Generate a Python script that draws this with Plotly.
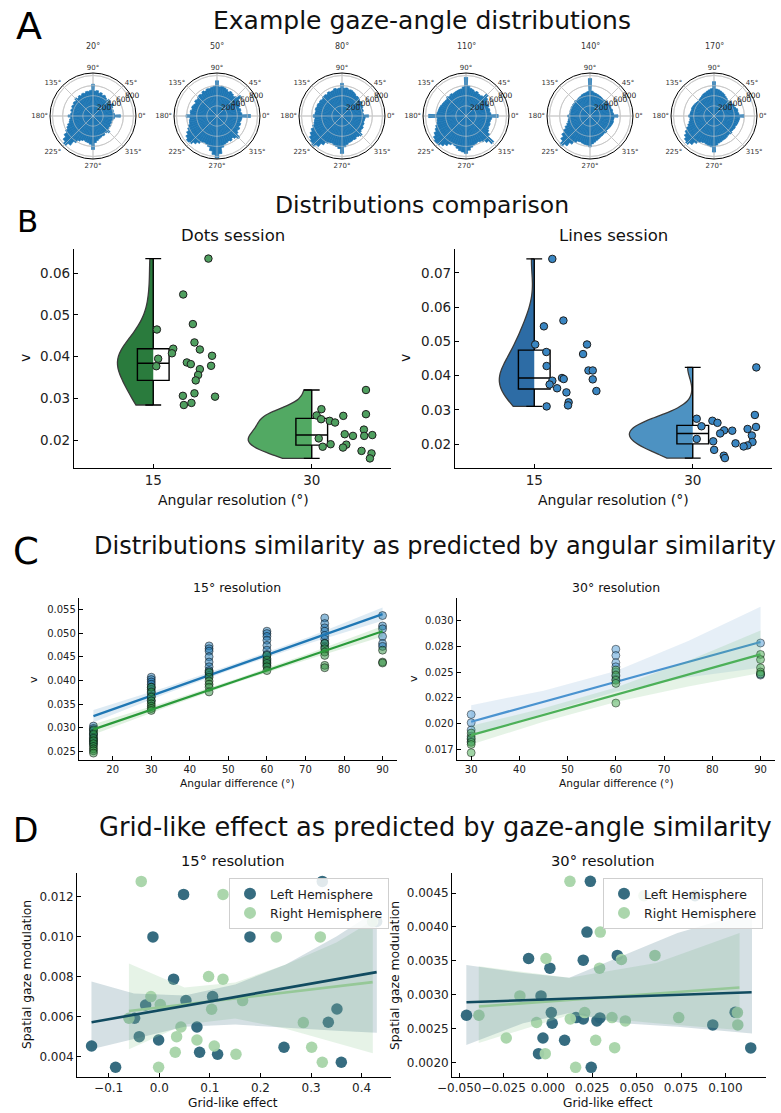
import math
import numpy as np
import plotly.graph_objects as go

W, H = 781, 1113
FONT = "DejaVu Sans"


def fx(p):
    return p / W


def fy(p):
    return 1 - p / H


# ---------------- Panel A: gaze-angle histograms (5° bins) ----------------
gaze_bins = list(range(0, 360, 5))
gaze_titles = ["20°", "50°", "80°", "110°", "140°", "170°"]
counts_20 = [544, 425, 400, 417, 391, 425, 468, 408, 425, 451, 417, 442,
             468, 451, 485, 468, 510, 493, 629, 510, 493, 502, 476, 493,
             468, 485, 459, 493, 451, 468, 442, 459, 434, 451, 425, 442,
             493, 442, 468, 485, 527, 561, 612, 680, 748, 799, 731, 629,
             561, 527, 510, 527, 536, 561, 663, 527, 493, 468, 451, 434,
             442, 408, 425, 459, 400, 383, 400, 374, 391, 374, 400, 425]
counts_50 = [663, 493, 468, 485, 459, 493, 510, 527, 612, 527, 510, 536,
             553, 527, 561, 578, 595, 578, 697, 595, 578, 561, 570, 544,
             561, 527, 544, 527, 510, 527, 493, 510, 527, 510, 536, 527,
             612, 536, 553, 561, 595, 629, 680, 731, 765, 748, 697, 646,
             595, 578, 595, 629, 697, 765, 833, 748, 629, 578, 561, 544,
             561, 527, 561, 612, 527, 493, 510, 476, 493, 468, 485, 493]
counts_80 = [527, 425, 408, 434, 425, 451, 442, 476, 459, 476, 493, 485,
             510, 527, 544, 536, 561, 553, 646, 553, 544, 561, 536, 527,
             544, 519, 536, 527, 510, 527, 519, 536, 527, 544, 527, 536,
             570, 536, 553, 570, 612, 663, 714, 765, 799, 816, 765, 680,
             612, 578, 570, 595, 612, 646, 740, 612, 570, 544, 536, 519,
             527, 502, 519, 544, 485, 468, 476, 451, 459, 442, 451, 459]
counts_110 = [638, 493, 476, 485, 468, 493, 485, 502, 544, 595, 510, 493,
              502, 527, 510, 536, 553, 595, 765, 578, 544, 536, 527, 519,
              510, 527, 510, 527, 502, 510, 519, 527, 544, 553, 561, 578,
              740, 570, 578, 595, 629, 663, 714, 765, 799, 782, 748, 697,
              646, 612, 629, 663, 697, 714, 740, 680, 629, 595, 578, 561,
              578, 612, 663, 748, 595, 536, 510, 493, 502, 485, 493, 510]
counts_140 = [553, 468, 451, 459, 442, 451, 434, 442, 425, 434, 417, 425,
              434, 442, 451, 459, 468, 493, 740, 485, 468, 459, 451, 434,
              425, 417, 408, 417, 400, 408, 400, 408, 400, 408, 400, 408,
              442, 417, 434, 451, 485, 536, 595, 663, 731, 808, 748, 663,
              595, 553, 544, 561, 570, 578, 612, 553, 527, 502, 485, 468,
              459, 451, 442, 459, 434, 442, 451, 459, 468, 476, 468, 476]
counts_170 = [595, 493, 476, 485, 459, 442, 451, 425, 434, 408, 417, 434,
              451, 476, 493, 510, 527, 536, 680, 544, 527, 510, 493, 485,
              468, 451, 442, 425, 434, 442, 451, 459, 468, 459, 468, 476,
              502, 476, 485, 510, 544, 595, 646, 697, 740, 765, 714, 646,
              595, 570, 561, 578, 595, 612, 714, 578, 544, 527, 510, 502,
              493, 476, 468, 485, 459, 468, 476, 468, 485, 493, 502, 510]
gaze_counts = [counts_20, counts_50, counts_80, counts_110, counts_140, counts_170]
radial_ticks = [200, 400, 600, 800]
angle_ticks = [0, 45, 90, 135, 180, 225, 270, 315]
R_MAX = 850
RLABEL_ANGLE = 22.5

# ---------------- Panel B: raincloud data ----------------
res_labels = ["15", "30"]
dots15_v = [0.0635, 0.0549, 0.0478, 0.0465, 0.0434, 0.0417, 0.0419, 0.0408, 0.0402, 0.0395, 0.0386,
            0.0382, 0.0377, 0.0378, 0.0370, 0.0356, 0.0343, 0.0306, 0.0312, 0.0304, 0.0284, 0.0289]
dots15_dx = [0.348, 0.189, 0.250, 0.023, 0.260, 0.294, 0.126, 0.118, 0.371, 0.031, 0.212,
             0.237, 0.019, 0.365, 0.294, 0.283, 0.268, 0.187, 0.260, 0.390, 0.193, 0.241]
dots30_v = [0.0320, 0.0274, 0.0259, 0.0262, 0.0258, 0.0250, 0.0246, 0.0242, 0.0225, 0.0214, 0.0210,
            0.0210, 0.0212, 0.0204, 0.0190, 0.0184, 0.0189, 0.0182, 0.0174, 0.0168, 0.0156]
dots30_dx = [0.342, 0.061, 0.031, 0.342, 0.199, 0.059, 0.113, 0.147, 0.329, 0.208, 0.260,
             0.331, 0.382, 0.044, 0.119, 0.069, 0.218, 0.197, 0.314, 0.377, 0.367]
lines15_v = [0.0741, 0.0561, 0.0544, 0.0491, 0.0491, 0.0463, 0.0469, 0.0428, 0.0415, 0.0415, 0.0389,
             0.0393, 0.0390, 0.0385, 0.0374, 0.0363, 0.0355, 0.0351, 0.0322, 0.0313, 0.0310]
lines15_dx = [0.114, 0.184, 0.061, 0.006, 0.333, 0.308, 0.076, 0.078, 0.342, 0.369, 0.369,
              0.175, 0.186, 0.114, 0.097, 0.144, 0.392, 0.203, 0.217, 0.213, 0.078]
lines30_v = [0.0424, 0.0285, 0.0274, 0.0268, 0.0262, 0.0252, 0.0250, 0.0244, 0.0239, 0.0240, 0.0231,
             0.0225, 0.0215, 0.0208, 0.0206, 0.0202, 0.0196, 0.0193, 0.0183, 0.0166, 0.0159]
lines30_dx = [0.401, 0.392, 0.025, 0.124, 0.156, 0.055, 0.399, 0.346, 0.249, 0.198, 0.173,
              0.373, 0.025, 0.129, 0.377, 0.270, 0.346, 0.321, 0.135, 0.196, 0.203]

# ---------------- Panel C: similarity vs angular difference ----------------
c15_angles = [15, 30, 45, 60, 75, 90]
c15_lines = [[0.0304, 0.0299, 0.0294, 0.0289, 0.0285, 0.0280, 0.0275, 0.0271, 0.0266],
             [0.0407, 0.0402, 0.0397, 0.0392, 0.0386, 0.0381, 0.0374, 0.0367, 0.0358],
             [0.0473, 0.0467, 0.0462, 0.0450, 0.0439, 0.0429, 0.0421, 0.0416, 0.0411],
             [0.0504, 0.0499, 0.0493, 0.0485, 0.0474, 0.0464, 0.0455, 0.0446, 0.0439, 0.0432],
             [0.0532, 0.0520, 0.0511, 0.0504, 0.0495, 0.0487, 0.0479, 0.0471],
             [0.0537, 0.0515, 0.0509, 0.0493, 0.0478, 0.0472]]
c15_dots = [[0.0296, 0.0287, 0.0278, 0.0273, 0.0267, 0.0261, 0.0256, 0.0252, 0.0247],
            [0.0386, 0.0376, 0.0365, 0.0357, 0.0351, 0.0346, 0.0341, 0.0337],
            [0.0418, 0.0407, 0.0399, 0.0392, 0.0386, 0.0376],
            [0.0453, 0.0443, 0.0436, 0.0429, 0.0421],
            [0.0478, 0.0467, 0.0460, 0.0453, 0.0432, 0.0427],
            [0.0464, 0.0439, 0.0437]]
c15_fit_x = [15, 90]
c15_fit_lines = [0.0325, 0.0540]
c15_fit_dots = [0.0297, 0.0504]
c15_band_x = [15, 33.75, 52.5, 71.25, 90]
c15_lines_lo = [0.0312, 0.0372, 0.0428, 0.0479, 0.0526]
c15_lines_hi = [0.0338, 0.0386, 0.0438, 0.0493, 0.0554]
c15_dots_lo = [0.0286, 0.0343, 0.0397, 0.0446, 0.0493]
c15_dots_hi = [0.0308, 0.0355, 0.0405, 0.0458, 0.0515]

c30_angles = [30, 60, 90]
c30_lines = [[0.0209, 0.0201, 0.0194, 0.0188, 0.0185, 0.0183],
             [0.0272, 0.0266, 0.0259, 0.0255, 0.0250, 0.0246, 0.0243],
             [0.0278, 0.0248, 0.0247]]
c30_dots = [[0.0191, 0.0186, 0.0182, 0.0180, 0.0172],
            [0.0252, 0.0247, 0.0242, 0.0239, 0.0220],
            [0.0267, 0.0262, 0.0254, 0.0250, 0.0248]]
c30_fit_x = [30, 90]
c30_fit_lines = [0.0202, 0.0279]
c30_fit_dots = [0.0189, 0.0267]
c30_band_x = [30, 45, 60, 75, 90]
c30_lines_lo = [0.0188, 0.0210, 0.0231, 0.0245, 0.0254]
c30_lines_hi = [0.0218, 0.0232, 0.0251, 0.0280, 0.0313]
c30_dots_lo = [0.0180, 0.0202, 0.0221, 0.0236, 0.0249]
c30_dots_hi = [0.0198, 0.0215, 0.0235, 0.0261, 0.0290]
c30_ytick_vals = [0.0175, 0.0200, 0.0225, 0.0250, 0.0275, 0.0300]
c30_ytick_text = ["0.017", "0.020", "0.022", "0.025", "0.028", "0.030"]

# ---------------- Panel D: grid-like effect vs gaze modulation ----------------
d15_left_x = [-0.1338, -0.0863, 0.0481, -0.0125, 0.1792, 0.0283, -0.0270, -0.0488, 0.0527, 0.1054, 0.0745,
              -0.0395, -0.0013, 0.0797, 0.1153, 0.2465, 0.3598, 0.3512, 0.3341, 0.4297, 0.3222]
d15_left_y = [0.00453, 0.00347, 0.01210, 0.00998, 0.00998, 0.00787, 0.00658, 0.00592, 0.00680, 0.00700, 0.00548,
              0.00500, 0.00483, 0.00422, 0.00412, 0.00447, 0.00372, 0.00638, 0.00572, 0.01075, 0.01275]
d15_right_x = [-0.0356, 0.1259, 0.2313, 0.3183, 0.0975, 0.1259, -0.0165, 0.0020, -0.0600, 0.1647, 0.1035,
               0.0428, 0.0343, 0.0745, 0.1087, 0.0316, 0.1516, -0.0013, 0.2847, 0.3012, 0.3222, 0.4217]
d15_right_y = [0.01275, 0.01210, 0.00998, 0.00998, 0.00800, 0.00787, 0.00700, 0.00660, 0.00592, 0.00680, 0.00637,
               0.00548, 0.00500, 0.00483, 0.00453, 0.00422, 0.00412, 0.00347, 0.00570, 0.00447, 0.00372, 0.01075]
d15_fit_left_x = [-0.1338, 0.4297]
d15_fit_left_y = [0.00572, 0.00822]
d15_fit_right_x = [-0.0600, 0.4217]
d15_fit_right_y = [0.00628, 0.00772]
d15_band_left_x = [-0.134, -0.05, 0.05, 0.15, 0.25, 0.35, 0.43]
d15_band_left_lo = [0.00437, 0.00490, 0.00550, 0.00560, 0.00545, 0.00530, 0.00520]
d15_band_left_hi = [0.00775, 0.00715, 0.00705, 0.00760, 0.00860, 0.01000, 0.01130]
d15_band_right_x = [-0.060, 0.05, 0.15, 0.25, 0.35, 0.422]
d15_band_right_lo = [0.00437, 0.00560, 0.00590, 0.00540, 0.00470, 0.00417]
d15_band_right_hi = [0.00865, 0.00745, 0.00770, 0.00860, 0.00970, 0.01080]

d30_left_x = [-0.0459, 0.0239, 0.0220, 0.0199, 0.0391, -0.0109, 0.0011, -0.0039, 0.0019, 0.0024, 0.0158,
              0.0199, 0.0293, 0.0276, -0.0028, 0.0094, -0.0053, 0.0244, 0.0929, 0.1055, 0.1143, 0.0829]
d30_left_y = [0.002699, 0.004672, 0.003924, 0.003511, 0.003580, 0.003535, 0.003393, 0.002984, 0.002738, 0.002581,
              0.002664, 0.002645, 0.002659, 0.002615, 0.002364, 0.002330, 0.002133, 0.001931, 0.002556, 0.002743,
              0.002217, 0.004460]
d30_right_x = [0.0124, 0.0295, -0.0011, 0.0414, 0.0603, 0.0291, -0.0158, -0.0389, 0.0207, 0.0126, 0.0361,
               0.0436, -0.0064, 0.0737, 0.1068, 0.1070, -0.0235, 0.0269, 0.0376, -0.0015, 0.0156, 0.0541]
d30_right_y = [0.004672, 0.003924, 0.003535, 0.003521, 0.003580, 0.003393, 0.002984, 0.002699, 0.002738, 0.002645,
               0.002664, 0.002615, 0.002591, 0.002664, 0.002738, 0.002556, 0.002364, 0.002330, 0.002221, 0.002133,
               0.001931, 0.004460]
d30_fit_left_x = [-0.0459, 0.1148]
d30_fit_left_y = [0.002891, 0.003038]
d30_fit_right_x = [-0.0389, 0.1079]
d30_fit_right_y = [0.002827, 0.003107]
d30_band_left_x = [-0.046, -0.014, 0.012, 0.042, 0.073, 0.115]
d30_band_left_lo = [0.00226, 0.00258, 0.00273, 0.00258, 0.00253, 0.00243]
d30_band_left_hi = [0.00344, 0.00332, 0.00325, 0.00357, 0.00391, 0.00423]
d30_band_right_x = [-0.039, 0.012, 0.061, 0.108]
d30_band_right_lo = [0.00229, 0.00270, 0.00258, 0.00248]
d30_band_right_hi = [0.00342, 0.00325, 0.00347, 0.00391]

# ---------------- colours ----------------
BAR_BLUE = "#1f77b4"
GRID_OVER = "rgba(205,205,205,0.75)"
DOTS15_FILL, DOTS30_FILL, DOTS_PT = "#2a7b3d", "#52a963", "#4f9f5f"
LINES15_FILL, LINES30_FILL, LINES_PT = "#2d6ca5", "#4d92c2", "#3a86c2"
HEMI_L, HEMI_R = "#2b6479", "#a6d4a8"
HEMI_L_LINE, HEMI_R_LINE = "#114b60", "#96c898"

fig = go.Figure()
annotations = []


def text(s, x, y, size, xanchor="center", angle=0, color="#111"):
    annotations.append(dict(text=s, x=fx(x), y=fy(y), xref="paper", yref="paper", showarrow=False,
                            xanchor=xanchor, yanchor="middle", textangle=angle,
                            font=dict(family=FONT, size=size, color=color)))


# ---------------- Panel A ----------------
a_cx = [93, 217, 342, 466, 590, 714]
A_CY, A_R = 116, 43
ring_theta = list(range(0, 361, 3))
for i, counts in enumerate(gaze_counts):
    pid = "polar" if i == 0 else f"polar{i + 1}"
    fig.add_trace(go.Barpolar(r=counts, theta=gaze_bins, width=[5] * len(gaze_bins),
                              marker=dict(color=BAR_BLUE, line=dict(color=BAR_BLUE, width=0.7)),
                              subplot=pid, showlegend=False, hoverinfo="skip"))
    # grid drawn over the histogram, as in a matplotlib polar axes
    for rv in radial_ticks:
        fig.add_trace(go.Scatterpolar(r=[rv] * len(ring_theta), theta=ring_theta, mode="lines",
                                      line=dict(color=GRID_OVER, width=0.8), subplot=pid,
                                      showlegend=False, hoverinfo="skip"))
    for av in angle_ticks:
        fig.add_trace(go.Scatterpolar(r=[0, R_MAX], theta=[av, av], mode="lines",
                                      line=dict(color=GRID_OVER, width=0.8), subplot=pid,
                                      showlegend=False, hoverinfo="skip"))
    cx = a_cx[i]
    fig.update_layout(**{pid: dict(
        domain=dict(x=[fx(cx - A_R), fx(cx + A_R)], y=[fy(A_CY + A_R), fy(A_CY - A_R)]),
        bgcolor="white",
        angularaxis=dict(rotation=0, direction="counterclockwise", tickmode="array",
                         tickvals=angle_ticks, ticktext=[f"{a}°" for a in angle_ticks],
                         tickfont=dict(family=FONT, size=7, color="#333"), showgrid=True,
                         gridcolor="#c4c4c4", gridwidth=0.8, linecolor="black", linewidth=1, ticks=""),
        radialaxis=dict(range=[0, R_MAX], tickmode="array", tickvals=radial_ticks,
                        showticklabels=False, showline=False,
                        gridcolor="#c4c4c4", gridwidth=0.8, ticks=""),
    )})
    # radial tick labels, horizontal, along the 22.5° ray
    ca, sa = math.cos(math.radians(RLABEL_ANGLE)), math.sin(math.radians(RLABEL_ANGLE))
    for rv in radial_ticks:
        rp = rv / R_MAX * A_R
        text(str(rv), cx + rp * ca + 2.5, A_CY - rp * sa - 5, 7.5, color="#222")


# ---------------- Panel B ----------------
def bandwidth(vals):
    v = np.asarray(vals)
    return float(np.std(v, ddof=1) * len(v) ** -0.2)


def raincloud(pos, vals, dx, fill, half_w, pt_color, xa, ya):
    fig.add_trace(go.Violin(y=vals, x0=pos, side="negative", width=2 * half_w, scalemode="width",
                            spanmode="hard", bandwidth=bandwidth(vals), fillcolor=fill,
                            line=dict(color="#3a3a3a", width=1.3), points=False,
                            box=dict(visible=False), meanline=dict(visible=False),
                            xaxis=xa, yaxis=ya, showlegend=False, hoverinfo="skip"))
    fig.add_trace(go.Box(y=vals, x0=pos, width=0.2, whiskerwidth=0.5, boxpoints=False,
                         quartilemethod="linear", fillcolor="rgba(0,0,0,0)",
                         line=dict(color="black", width=1.4), xaxis=xa, yaxis=ya,
                         showlegend=False, hoverinfo="skip"))
    fig.add_trace(go.Scatter(x=[pos + d for d in dx], y=vals, mode="markers",
                             marker=dict(size=7.5, color=pt_color, line=dict(color="#1e1e1e", width=1)),
                             xaxis=xa, yaxis=ya, showlegend=False, hoverinfo="skip"))


raincloud(0, dots15_v, dots15_dx, DOTS15_FILL, 0.226, DOTS_PT, "x", "y")
raincloud(1, dots30_v, dots30_dx, DOTS30_FILL, 0.40, DOTS_PT, "x", "y")
raincloud(0, lines15_v, lines15_dx, LINES15_FILL, 0.22, LINES_PT, "x2", "y2")
raincloud(1, lines30_v, lines30_dx, LINES30_FILL, 0.40, LINES_PT, "x2", "y2")


# ---------------- Panel C ----------------
def band(xs, lo, hi, color, xa, ya):
    fig.add_trace(go.Scatter(x=list(xs) + list(xs)[::-1], y=list(hi) + list(lo)[::-1], fill="toself",
                             fillcolor=color, line=dict(width=0), mode="lines",
                             xaxis=xa, yaxis=ya, showlegend=False, hoverinfo="skip"))


def column_points(angles, groups, color, edge, xa, ya, size=8):
    xs, ys = [], []
    for a, vals in zip(angles, groups):
        xs += [a] * len(vals)
        ys += vals
    fig.add_trace(go.Scatter(x=xs, y=ys, mode="markers",
                             marker=dict(size=size, color=color, line=dict(color=edge, width=0.9)),
                             xaxis=xa, yaxis=ya, showlegend=False, hoverinfo="skip"))


column_points(c15_angles, c15_lines, "rgba(31,119,180,0.5)", "rgba(0,0,0,0.55)", "x3", "y3")
band(c15_band_x, c15_lines_lo, c15_lines_hi, "rgba(31,119,180,0.15)", "x3", "y3")
fig.add_trace(go.Scatter(x=c15_fit_x, y=c15_fit_lines, mode="lines", line=dict(color="#1f77b4", width=2.2),
                         xaxis="x3", yaxis="y3", showlegend=False, hoverinfo="skip"))
column_points(c15_angles, c15_dots, "rgba(44,140,60,0.5)", "rgba(0,0,0,0.55)", "x3", "y3")
band(c15_band_x, c15_dots_lo, c15_dots_hi, "rgba(44,160,44,0.15)", "x3", "y3")
fig.add_trace(go.Scatter(x=c15_fit_x, y=c15_fit_dots, mode="lines", line=dict(color="#2a9a3a", width=2.2),
                         xaxis="x3", yaxis="y3", showlegend=False, hoverinfo="skip"))

column_points(c30_angles, c30_lines, "rgba(90,160,215,0.55)", "rgba(0,0,0,0.5)", "x4", "y4")
band(c30_band_x, c30_lines_lo, c30_lines_hi, "rgba(90,150,200,0.15)", "x4", "y4")
fig.add_trace(go.Scatter(x=c30_fit_x, y=c30_fit_lines, mode="lines", line=dict(color="#4a93d0", width=2.2),
                         xaxis="x4", yaxis="y4", showlegend=False, hoverinfo="skip"))
column_points(c30_angles, c30_dots, "rgba(80,175,90,0.55)", "rgba(0,0,0,0.5)", "x4", "y4")
band(c30_band_x, c30_dots_lo, c30_dots_hi, "rgba(80,175,90,0.15)", "x4", "y4")
fig.add_trace(go.Scatter(x=c30_fit_x, y=c30_fit_dots, mode="lines", line=dict(color="#4cb058", width=2.2),
                         xaxis="x4", yaxis="y4", showlegend=False, hoverinfo="skip"))


# ---------------- Panel D ----------------
def hemi_panel(lx, ly, rx, ry, fl, fr, bl, br, xa, ya, leg):
    fig.add_trace(go.Scatter(x=lx, y=ly, mode="markers", name="Left Hemisphere",
                             marker=dict(size=11.5, color=HEMI_L, opacity=0.95),
                             xaxis=xa, yaxis=ya, legend=leg, legendrank=1, hoverinfo="skip"))
    fig.add_trace(go.Scatter(x=rx, y=ry, mode="markers", name="Right Hemisphere",
                             marker=dict(size=11.5, color=HEMI_R, opacity=0.95),
                             xaxis=xa, yaxis=ya, legend=leg, legendrank=2, hoverinfo="skip"))
    band(br[0], br[1], br[2], "rgba(166,212,168,0.28)", xa, ya)
    band(bl[0], bl[1], bl[2], "rgba(43,100,121,0.20)", xa, ya)
    fig.add_trace(go.Scatter(x=fr[0], y=fr[1], mode="lines", line=dict(color=HEMI_R_LINE, width=2.6),
                             xaxis=xa, yaxis=ya, showlegend=False, hoverinfo="skip"))
    fig.add_trace(go.Scatter(x=fl[0], y=fl[1], mode="lines", line=dict(color=HEMI_L_LINE, width=2.6),
                             xaxis=xa, yaxis=ya, showlegend=False, hoverinfo="skip"))


hemi_panel(d15_left_x, d15_left_y, d15_right_x, d15_right_y,
           (d15_fit_left_x, d15_fit_left_y), (d15_fit_right_x, d15_fit_right_y),
           (d15_band_left_x, d15_band_left_lo, d15_band_left_hi),
           (d15_band_right_x, d15_band_right_lo, d15_band_right_hi), "x5", "y5", "legend")
hemi_panel(d30_left_x, d30_left_y, d30_right_x, d30_right_y,
           (d30_fit_left_x, d30_fit_left_y), (d30_fit_right_x, d30_fit_right_y),
           (d30_band_left_x, d30_band_left_lo, d30_band_left_hi),
           (d30_band_right_x, d30_band_right_lo, d30_band_right_hi), "x6", "y6", "legend2")


# ---------------- axes ----------------
def axis(dom, rng, anchor, size, **kw):
    d = dict(domain=dom, range=rng, anchor=anchor, showline=True, linecolor="black", linewidth=1.3,
             ticks="inside", ticklen=4, tickwidth=1, tickcolor="black", showgrid=False,
             zeroline=False, mirror=False, tickangle=0, automargin=False,
             tickfont=dict(family=FONT, size=size, color="#222"))
    d.update(kw)
    return d


b_y = [fy(468), fy(249)]
c_y = [fy(760), fy(598)]
d_y = [fy(1076.7), fy(873)]

fig.update_layout(
    xaxis=axis([fx(74), fx(391)], [-0.5, 1.5], "y", 13.5, tickmode="array", tickvals=[0, 1], ticktext=res_labels),
    yaxis=axis(b_y, [0.0133, 0.0658], "x", 13.5, tickmode="array",
               tickvals=[0.02, 0.03, 0.04, 0.05, 0.06], tickformat=".2f"),
    xaxis2=axis([fx(455), fx(772)], [-0.5, 1.5], "y2", 13.5, tickmode="array", tickvals=[0, 1], ticktext=res_labels),
    yaxis2=axis(b_y, [0.013, 0.077], "x2", 13.5, tickmode="array",
                tickvals=[0.02, 0.03, 0.04, 0.05, 0.06, 0.07], tickformat=".2f"),
    xaxis3=axis([fx(79), fx(397)], [11.25, 93.75], "y3", 10, tickmode="array",
                tickvals=[20, 30, 40, 50, 60, 70, 80, 90]),
    yaxis3=axis(c_y, [0.02325, 0.0574], "x3", 10, tickmode="array",
                tickvals=[0.025, 0.030, 0.035, 0.040, 0.045, 0.050, 0.055], tickformat=".3f"),
    xaxis4=axis([fx(456.7), fx(775)], [27, 93], "y4", 10, tickmode="array",
                tickvals=[30, 40, 50, 60, 70, 80, 90]),
    yaxis4=axis(c_y, [0.0165, 0.03215], "x4", 10, tickmode="array",
                tickvals=c30_ytick_vals, ticktext=c30_ytick_text),
    xaxis5=axis([fx(77.3), fx(391)], [-0.162, 0.458], "y5", 12, tickmode="array",
                tickvals=[-0.1, 0.0, 0.1, 0.2, 0.3, 0.4], tickformat=".1f"),
    yaxis5=axis(d_y, [0.0030, 0.01317], "x5", 12, tickmode="array",
                tickvals=[0.004, 0.006, 0.008, 0.010, 0.012], tickformat=".3f"),
    xaxis6=axis([fx(452.3), fx(766)], [-0.0539, 0.1229], "y6", 12, tickmode="array",
                tickvals=[-0.05, -0.025, 0.0, 0.025, 0.05, 0.075, 0.1], tickformat=".3f"),
    yaxis6=axis(d_y, [0.001793, 0.004795], "x6", 12, tickmode="array",
                tickvals=[0.002, 0.0025, 0.003, 0.0035, 0.004, 0.0045], tickformat=".4f"),
)

legend_style = dict(bgcolor="rgba(255,255,255,0.85)", bordercolor="#cfcfcf", borderwidth=1,
                    font=dict(family=FONT, size=12.5, color="#222"), xanchor="left", yanchor="top",
                    itemsizing="constant", tracegroupgap=0)
fig.update_layout(
    legend=dict(x=fx(229), y=fy(878), **legend_style),
    legend2=dict(x=fx(603), y=fy(878), **legend_style),
)

# ---------------- text ----------------
text("A", 14, 26, 38, "left", color="black")
text("B", 15, 221, 31, "left", color="black")
text("C", 11, 551, 37, "left", color="black")
text("D", 11, 830, 33, "left", color="black")
text("Example gaze-angle distributions", 422, 21, 25)
text("Distributions comparison", 422, 205, 23.5)
text("Distributions similarity as predicted by angular similarity", 434.5, 546, 24)
text("Grid-like effect as predicted by gaze-angle similarity", 435, 827, 25.7)
for cx, t in zip(a_cx, gaze_titles):
    text(t, cx, 47, 8, color="#333")
text("Dots session", 233, 235, 16.5)
text("Lines session", 613, 235, 16.5)
text("Angular resolution (°)", 233, 500, 14)
text("Angular resolution (°)", 613, 500, 14)
text("v", 25, 358, 14, angle=-90)
text("v", 405, 358, 14, angle=-90)
text("15° resolution", 237, 587, 12.5)
text("30° resolution", 616, 587, 12.5)
text("Angular difference (°)", 237, 783, 10.6)
text("Angular difference (°)", 616, 783, 10.6)
text("v", 33, 680, 11, angle=-90)
text("v", 413, 679, 11, angle=-90)
text("15° resolution", 233, 860, 14.7)
text("30° resolution", 603, 860, 14.7)
text("Grid-like effect", 233, 1103, 12.2)
text("Grid-like effect", 608, 1103, 12.2)
text("Spatial gaze modulation", 27, 975, 12.3, angle=-90)
text("Spatial gaze modulation", 395, 975, 12.3, angle=-90)

fig.update_layout(
    width=W, height=H, autosize=False, margin=dict(l=0, r=0, t=0, b=0, pad=0),
    paper_bgcolor="white", plot_bgcolor="white", font=dict(family=FONT),
    violinmode="overlay", boxmode="overlay", showlegend=True,
    annotations=annotations,
)

fig.write_html("out.html")
